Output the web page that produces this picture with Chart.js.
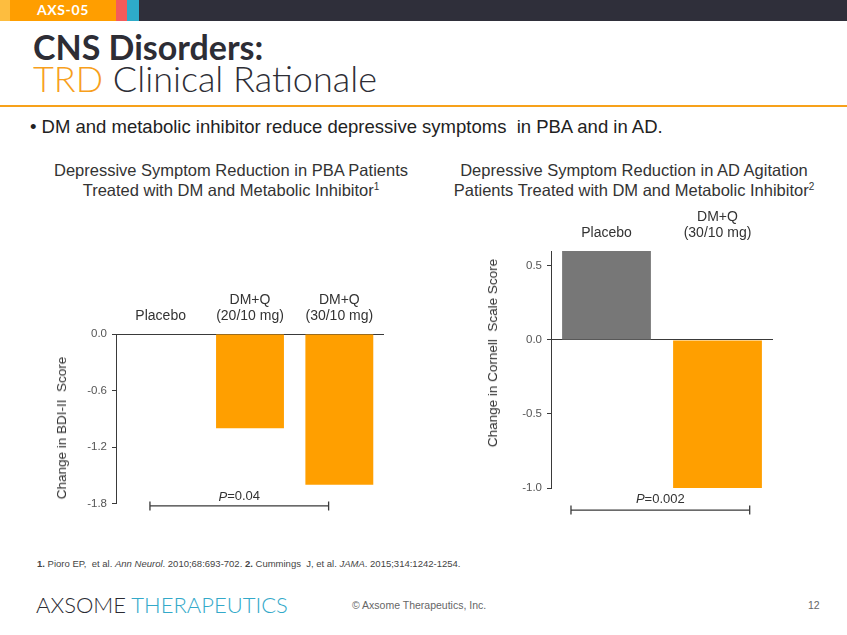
<!DOCTYPE html>
<html>
<head>
<meta charset="utf-8">
<script src="https://cdn.jsdelivr.net/npm/chart.js@4.4.0/dist/chart.umd.min.js"></script>
<style>
  body { margin:0; width:847px; height:635px; position:relative; overflow:hidden; background:#fff;
         font-family:"Liberation Sans", Arial, sans-serif; color:#222; }
  .abs { position:absolute; white-space:nowrap; }
  #topbar { left:0; top:0; width:847px; height:21px;
    background:linear-gradient(to right,#fdbd3f 0 10px,#ff9e00 10px 116px,#f45b5b 116px 127px,#2eabc9 127px 139px,#2f2f3a 139px); }
  #tag { left:37px; top:1px; line-height:20px; font:bold 14px Lato, sans-serif; color:#fff; letter-spacing:0.6px; }
  #t1 { left:33px; top:27px; font:bold 34px/40px Lato, sans-serif; color:#2d2d35; }
  #t2 { left:33px; top:58px; font:300 36px/40px Lato, sans-serif; color:#2d2d35; }
  #t2 span { color:#f7a01c; }
  #rule { left:0; top:105px; width:847px; height:2px; background:#f7a11a; }
  #bullet { left:30px; top:116px; font-size:18.5px; line-height:21px; color:#222; }
  .ct { top:160px; font-size:16.5px; line-height:20px; color:#333; text-align:center; }
  .ct sup { font-size:10px; line-height:0; vertical-align:6px; }
  .yt { font-size:13.5px; line-height:16px; color:#333; transform:translate(-50%,-50%) rotate(-90deg); }
  #foot { left:37px; top:558px; font-size:9.5px; line-height:12px; color:#444; }
  #logo { left:36px; top:591px; font:300 22px/28px Lato, sans-serif; color:#2b2b33; }
  #logo span { color:#33a9c9; }
  #copy { left:352px; top:598px; font-size:10.5px; line-height:14px; color:#666; }
  #page { left:808px; top:598px; font-size:10.5px; line-height:14px; color:#666; }
  canvas { position:absolute; }
</style>
</head>
<body>
<div id="topbar" class="abs"></div>
<div id="tag" class="abs">AXS-05</div>
<div id="t1" class="abs">CNS Disorders:</div>
<div id="t2" class="abs"><span>TRD</span> Clinical Rationale</div>
<div id="rule" class="abs"></div>
<div id="bullet" class="abs">• DM and metabolic inhibitor reduce depressive symptoms&nbsp; in PBA and in AD.</div>
<div class="abs ct" style="left:31px;width:400px;">Depressive Symptom Reduction in PBA Patients<br>Treated with DM and Metabolic Inhibitor<sup>1</sup></div>
<div class="abs ct" style="left:434px;width:400px;">Depressive Symptom Reduction in AD Agitation<br>Patients Treated with DM and Metabolic Inhibitor<sup>2</sup></div>

<canvas id="pba" width="360" height="240" style="left:40px;top:280px;"></canvas>
<canvas id="ad" width="330" height="330" style="left:470px;top:200px;"></canvas>
<div class="abs yt" style="left:62px;top:428px;">Change in BDI-II&nbsp; Score</div>
<div class="abs yt" style="left:493px;top:353px;">Change in Cornell&nbsp; Scale Score</div>

<div id="foot" class="abs"><b>1.</b> Pioro EP,&nbsp; et al. <i>Ann Neurol</i>. 2010;68:693-702. <b>2.</b> Cummings&nbsp; J, et al. <i>JAMA</i>. 2015;314:1242-1254.</div>
<div id="logo" class="abs">AXSOME <span>THERAPEUTICS</span></div>
<div id="copy" class="abs">© Axsome Therapeutics, Inc.</div>
<div id="page" class="abs">12</div>

<script>
/* ── PBA chart (BDI-II) ── */
const pbaCats   = ['Placebo', ['DM+Q', '(20/10 mg)'], ['DM+Q', '(30/10 mg)']];
const pbaVals   = [0.012, -1.0, -1.6];
const pbaTicks  = [-1.8, -1.2, -0.6, 0];
const pbaColors = ['#555555', '#ff9f00', '#ff9f00'];

/* ── AD agitation chart (Cornell) ── */
const adCats   = ['Placebo', ['DM+Q', '(30/10 mg)']];
const adVals   = [0.6, -1.0];
const adTicks  = [-1.0, -0.5, 0, 0.5];
const adColors = ['#777777', '#ff9f00'];

/* ── P-value brackets: from/to in category index, y in data units ── */
const pbaP = { from: -0.12, to: 1.88, y: -1.826, textY: -1.73, text: '0.04' };
const adP  = { from: -0.32, to: 1.29, y: -1.149, textY: -1.08, text: '0.002' };

const axisColor = '#3a3a3a';

const bracketPlugin = {
  id: 'pbracket',
  afterDraw(chart, args, o) {
    const { ctx, scales: { x, y } } = chart;
    const x1 = x.getPixelForValue(o.from), x2 = x.getPixelForValue(o.to);
    const yl = y.getPixelForValue(o.y), yt = y.getPixelForValue(o.textY);
    ctx.save();
    ctx.strokeStyle = axisColor;
    ctx.lineWidth = 1.3;
    ctx.beginPath();
    ctx.moveTo(x1, yl); ctx.lineTo(x2, yl);
    ctx.moveTo(x1, yl - 4.5); ctx.lineTo(x1, yl + 4.5);
    ctx.moveTo(x2, yl - 4.5); ctx.lineTo(x2, yl + 4.5);
    ctx.stroke();
    ctx.fillStyle = '#333';
    ctx.textBaseline = 'middle';
    ctx.font = 'italic 13px "Liberation Sans", Arial, sans-serif';
    const wP = ctx.measureText('P').width;
    ctx.font = '13px "Liberation Sans", Arial, sans-serif';
    const rest = '=' + o.text;
    const wR = ctx.measureText(rest).width;
    let sx = (x1 + x2) / 2 - (wP + wR) / 2;
    ctx.font = 'italic 13px "Liberation Sans", Arial, sans-serif';
    ctx.fillText('P', sx, yt);
    ctx.font = '13px "Liberation Sans", Arial, sans-serif';
    ctx.fillText(rest, sx + wP, yt);
    ctx.restore();
  }
};

function makeChart(id, cats, vals, colors, ticks, min, max, barPct, axisW, xH, padR, padB, pb) {
  return new Chart(document.getElementById(id), {
    type: 'bar',
    data: {
      labels: cats,
      datasets: [{ data: vals, backgroundColor: colors, borderWidth: 0,
                   categoryPercentage: 1, barPercentage: barPct }],
    },
    options: {
      responsive: false,
      animation: false,
      layout: { padding: { top: 0, left: 0, right: padR, bottom: padB } },
      plugins: { legend: { display: false }, tooltip: { enabled: false }, pbracket: pb },
      scales: {
        x: {
          position: 'top',
          offset: true,
          grid: { display: false, drawTicks: false },
          border: { display: false },
          ticks: { color: '#333', font: { size: 14, lineHeight: 1.15 }, padding: 10,
                   maxRotation: 0, autoSkip: false },
          afterFit: s => { s.height = xH; },
        },
        y: {
          min, max,
          border: { display: true, color: axisColor, width: 1 },
          grid: {
            drawOnChartArea: true, drawTicks: true, tickLength: 4, tickColor: axisColor,
            color: c => (c.tick && c.tick.value === 0) ? axisColor : 'transparent',
            lineWidth: 1,
          },
          ticks: { color: '#555', font: { size: 11.5 }, padding: 5, callback: v => v.toFixed(1) },
          afterBuildTicks: s => { s.ticks = ticks.map(v => ({ value: v })); },
          afterFit: s => { s.width = axisW; },
        },
      },
    },
    plugins: [bracketPlugin],
  });
}

makeChart('pba', pbaCats, pbaVals, pbaColors, pbaTicks, -1.8, 0, 0.76, 76, 54, 16, 16.5, pbaP);
makeChart('ad', adCats, adVals, adColors, adTicks, -1.0, 0.6, 0.8, 81, 51, 27, 42, adP);
</script>
</body>
</html>
